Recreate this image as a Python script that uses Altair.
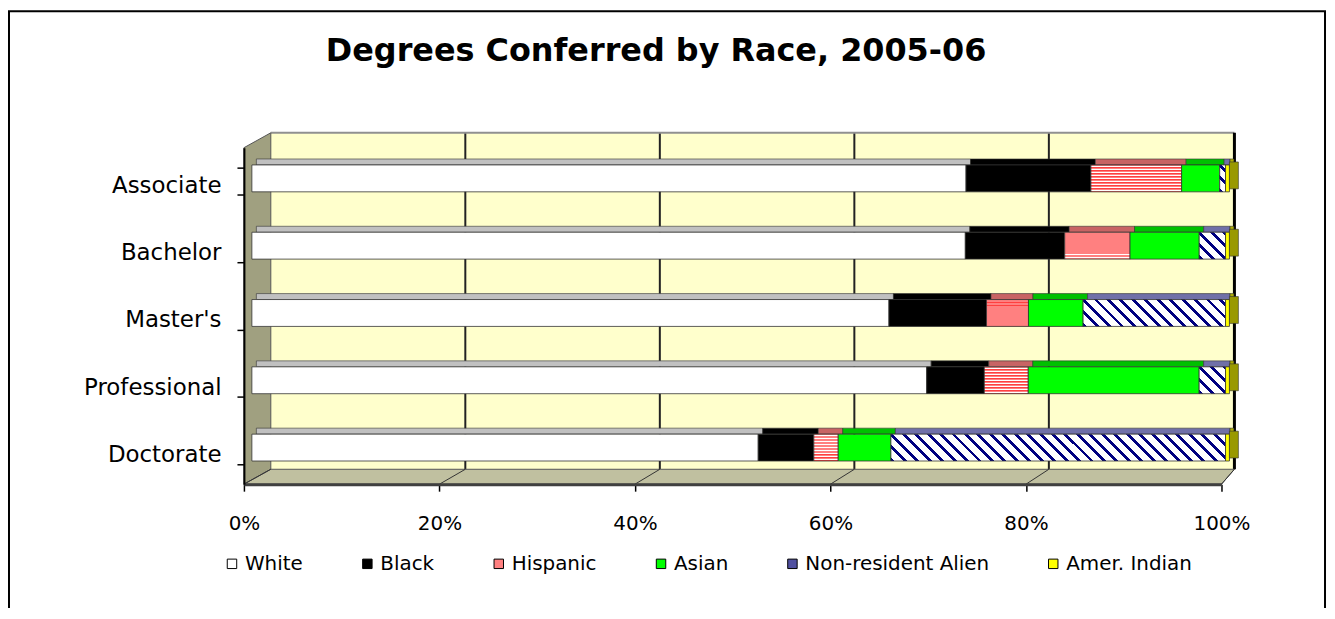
import altair as alt
import pandas as pd

# ---------------- data ----------------
degrees = ["Associate", "Bachelor", "Master's", "Professional", "Doctorate"]
races = ["White", "Black", "Hispanic", "Asian", "Non-resident Alien", "Amer. Indian"]
white = [73.2, 73.2, 65.3, 69.1, 51.9]
black = [12.8, 10.2, 10.0, 5.9, 5.7]
hispanic = [9.3, 6.7, 4.3, 4.5, 2.5]
asian = [3.9, 7.1, 5.6, 17.5, 5.4]
nonres = [0.6, 2.7, 14.6, 2.7, 34.3]
amind = [0.4, 0.4, 0.4, 0.4, 0.4]
x_ticks = [0, 0.2, 0.4, 0.6, 0.8, 1.0]
title_text = "Degrees Conferred by Race, 2005-06"

series = [white, black, hispanic, asian, nonres, amind]
rows = []
for ri, (race, vals) in enumerate(zip(races, series)):
    for d, v in zip(degrees, vals):
        rows.append({"degree": d, "race": race, "order": ri, "value": v})
df = pd.DataFrame(rows)

# ---------------- layout / style ----------------
PW, PH = 982, 338          # plot area
BAR_H = 27
BX, BY = 8, -3             # bar front-face offset
DX, DY = 9, 6              # bar depth
WX, WY = 27, 15            # wall depth
BACK_R = 995               # right edge of back wall (px)
BACK_W = 977               # back-wall span of 0..100%
FONT = "DejaVu Sans"

front_colors = {"White": "#FFFFFF", "Black": "#000000", "Asian": "#00FF00",
                "Amer. Indian": "#FFFF00"}
top_colors = {"White": "#C0C0C0", "Black": "#000000", "Hispanic": "#C86464",
              "Asian": "#00C000", "Non-resident Alien": "#7070A8",
              "Amer. Indian": "#B0B000"}
legend_colors = ["#FFFFFF", "#000000", "#FF8080", "#00FF00", "#5050A0", "#FFFF00"]


def hisp_gradient():
    n = 9
    seq = [(0.0, "#FF8080"), (0.45, "#FFFFFF"), (0.6, "#FF8080"), (0.82, "#FF4040")]
    stops = []
    for k in range(n):
        for i, (o, c) in enumerate(seq):
            s = (k + o) / n
            e = (k + (seq[i + 1][0] if i + 1 < len(seq) else 1.0)) / n
            stops.append({"offset": round(s, 4), "color": c})
            stops.append({"offset": round(e, 4), "color": c})
    return {"gradient": "linear", "x1": 0, "y1": 0, "x2": 0, "y2": 1, "stops": stops}


def nra_gradient(W, H=BAR_H, P=12.5, navy=4.0):
    L = W + H
    a = W * L / (W * W + H * H)
    b = a * H / W
    stops = []
    k = 0
    while k * P < L:
        s = k * P / L
        m = min((k * P + navy) / L, 1.0)
        e = min((k + 1) * P / L, 1.0)
        stops += [{"offset": round(s, 5), "color": "#000080"},
                  {"offset": round(m, 5), "color": "#000080"},
                  {"offset": round(m, 5), "color": "#FFFFFF"},
                  {"offset": round(e, 5), "color": "#FFFFFF"}]
        k += 1
    return {"gradient": "linear", "x1": 0, "y1": 1, "x2": round(a, 5),
            "y2": round(1 - b, 5), "stops": stops}


xscale = alt.Scale(domain=[0, 1], nice=False, zero=False)
xaxis = alt.Axis(values=x_ticks, format="%", labelFont=FONT, labelFontSize=20,
                 labelColor="black", tickSize=7, tickColor="black", tickWidth=1.5,
                 domainColor="#404040", domainWidth=3, labelPadding=23, grid=False,
                 title=None, labelFlush=False, zindex=2)
yscale = alt.Scale(domain=degrees, paddingInner=0.6, paddingOuter=0.3)
yaxis = alt.Axis(title=None, labelFont=FONT, labelFontSize=23, labelColor="black",
                 tickBand="extent", tickSize=7, tickColor="black", tickWidth=1.5,
                 domainColor="black", domainWidth=2, labelPadding=16, labelOffset=4,
                 zindex=2)


def X(f):
    return alt.X(f, type="quantitative", scale=xscale, axis=xaxis)


def Y():
    return alt.Y("degree:N", scale=yscale, axis=yaxis, sort=degrees)


def back_x(v):
    return (WX + v * BACK_W) / PW


# ---------------- decorations (walls, floor, grid, frame, title) ----------------
back_wall = alt.Chart(pd.DataFrame({"x": [WX / PW], "x2": [BACK_R / PW]})).mark_rect(
    fill="#FFFFCC").encode(x=X("x"), x2="x2", y=alt.value(-WY), y2=alt.value(PH - WY))

left_wall = alt.Chart(pd.DataFrame({"x": [0, WX / PW], "yt": [0, -WY], "yb": [PH, PH - WY]})
                      ).mark_area(orient="vertical", fill="#A0A080", stroke="#555555",
                                  strokeWidth=1).encode(
    x=X("x"), y=alt.Y("yt:Q", scale=None), y2="yb")

floor = alt.Chart(pd.DataFrame({"y": [PH - WY, PH], "xl": [WX / PW, 0],
                                "xr": [BACK_R / PW, 1]})
                  ).mark_area(orient="horizontal", fill="#C0C0A0", stroke="#555555",
                              strokeWidth=1).encode(
    y=alt.Y("y:Q", scale=None), x=X("xl"), x2="xr")

grid = alt.Chart(pd.DataFrame({"x": [back_x(v) for v in x_ticks[1:-1]]})).mark_rule(
    color="#222222", strokeWidth=2).encode(x=X("x"), y=alt.value(-WY), y2=alt.value(PH - WY))

flines = []
for i, v in enumerate(x_ticks):
    flines.append({"k": i, "x": v, "y": PH})
    flines.append({"k": i, "x": min(back_x(v), BACK_R / PW), "y": PH - WY})
floor_lines = alt.Chart(pd.DataFrame(flines)).mark_line(color="#333333", strokeWidth=1
                                                         ).encode(
    x=X("x"), y=alt.Y("y:Q", scale=None), detail="k:N")

top_edge = alt.Chart(pd.DataFrame({"x": [WX / PW], "x2": [BACK_R / PW]})).mark_rule(
    color="#909090", strokeWidth=2).encode(x=X("x"), x2="x2", y=alt.value(-WY))
right_edge = alt.Chart(pd.DataFrame({"x": [BACK_R / PW]})).mark_rule(
    color="#000000", strokeWidth=3).encode(x=X("x"), y=alt.value(-WY), y2=alt.value(PH - WY))

frame = alt.Chart(pd.DataFrame({"a": [0]})).mark_rect(
    filled=False, stroke="black", strokeWidth=2).encode(
    x=alt.value(-236), x2=alt.value(1086), y=alt.value(-137), y2=alt.value(700))

title = alt.Chart(pd.DataFrame({"t": [title_text]})).mark_text(
    font=FONT, fontSize=32, fontWeight="bold", color="black", align="center",
    baseline="alphabetic").encode(text="t:N", x=alt.value(414), y=alt.value(-87))

deco = alt.layer(frame, title, back_wall, grid, top_edge, right_edge, left_wall, floor,
                 floor_lines)

# ---------------- bars ----------------
base = alt.Chart(df).transform_stack(
    stack="value", as_=["x0", "x1"], groupby=["degree"], offset="normalize",
    sort=[alt.SortField("order", order="ascending")])

layers = []
for r in races:
    layers.append(base.transform_filter(alt.datum.race == r).mark_bar(
        fill=top_colors[r], stroke="#333333", strokeWidth=0.6, height=DY,
        xOffset=BX + DX / 2, x2Offset=BX + DX / 2,
        yOffset=BY - BAR_H / 2 - DY / 2).encode(x=X("x0"), x2="x1", y=Y()))

for r in races:
    if r == "Hispanic":
        layers.append(base.transform_filter(alt.datum.race == r).mark_bar(
            fill=hisp_gradient(), stroke="#333333", strokeWidth=0.8, height=BAR_H,
            xOffset=BX, x2Offset=BX, yOffset=BY).encode(x=X("x0"), x2="x1", y=Y()))
    elif r == "Non-resident Alien":
        for i, d in enumerate(degrees):
            tot = sum(s[i] for s in series)
            W = nonres[i] / tot * PW
            layers.append(base.transform_filter(
                (alt.datum.race == r) & (alt.datum.degree == d)).mark_bar(
                fill=nra_gradient(W), stroke="#333333", strokeWidth=0.8, height=BAR_H,
                xOffset=BX, x2Offset=BX, yOffset=BY).encode(x=X("x0"), x2="x1", y=Y()))
    else:
        layers.append(base.transform_filter(alt.datum.race == r).mark_bar(
            fill=front_colors[r], stroke="#333333", strokeWidth=0.8, height=BAR_H,
            xOffset=BX, x2Offset=BX, yOffset=BY).encode(x=X("x0"), x2="x1", y=Y()))

side = base.transform_filter(alt.datum.race == races[-1]).mark_bar(
    fill="#999900", stroke="#333333", strokeWidth=0.6, height=BAR_H,
    xOffset=BX, x2Offset=BX + DX, yOffset=BY - DY / 2).encode(
    x=X("x1"), x2="x1", y=Y())
layers.append(side)

legend_layer = base.mark_square(opacity=0).encode(
    x=X("x0"), y=Y(),
    color=alt.Color("race:N", scale=alt.Scale(domain=races, range=legend_colors),
                    legend=alt.Legend(orient="none", legendX=-22, legendY=408,
                                      direction="horizontal", columns=6, title=None,
                                      symbolType="square", symbolSize=90,
                                      symbolStrokeColor="black", symbolStrokeWidth=1,
                                      symbolOpacity=1, labelFont=FONT, labelFontSize=20,
                                      labelColor="black", labelOffset=3, labelLimit=0,
                                      columnPadding=54)))
layers.append(legend_layer)

bars = alt.layer(*layers)

chart = alt.layer(deco, bars).resolve_scale(y="independent").properties(
    width=PW, height=PH,
    autosize=alt.AutoSizeParams(type="none"),
    padding={"left": 237, "top": 139, "right": 106, "bottom": 123},
    background="white",
).configure_view(stroke=None)

chart.save("out.html", embed_options={"renderer": "svg", "actions": False})
